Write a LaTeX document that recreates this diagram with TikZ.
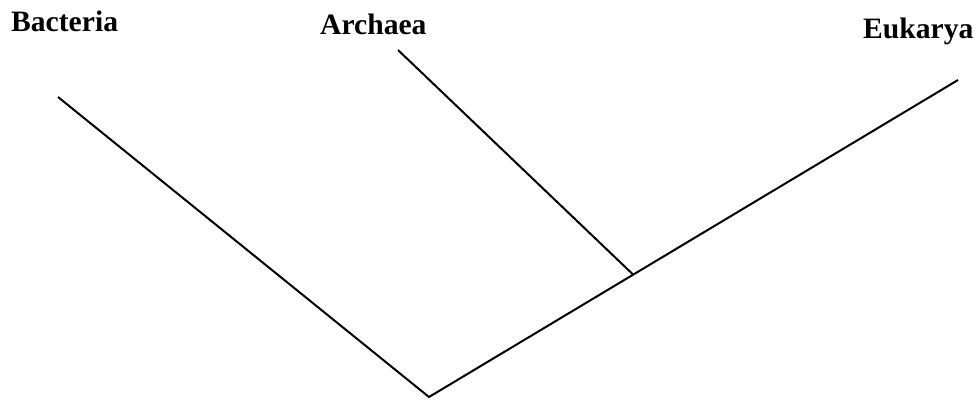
\documentclass[tikz,border=0pt]{standalone}
\usepackage{fontspec}
\setmainfont{Liberation Serif}
\usetikzlibrary{calc}
\begin{document}
\begin{tikzpicture}[x=1pt,y=-1pt,
  branch/.style={line width=2pt,black},
  taxon/.style={font=\fontsize{29.6}{32}\selectfont\bfseries,inner sep=0pt,anchor=base west}]
\useasboundingbox (0,0) rectangle (979,401);
\coordinate (root) at (429,397);
\coordinate (btip) at (58,97);
\coordinate (etip) at (958,80);
\coordinate (atip) at (398,50);
\coordinate (junc) at ($(root)!0.386!(etip)$);
\draw[branch] (btip) -- (root) -- (etip);
\draw[branch] (atip) -- (junc);
\node[taxon] (bac) at (11,32) {Bacteria};
\node[taxon] (arc) at (320,35) {Archaea};
\node[taxon] (euk) at (863,39) {Eukarya};
\end{tikzpicture}
\end{document}
